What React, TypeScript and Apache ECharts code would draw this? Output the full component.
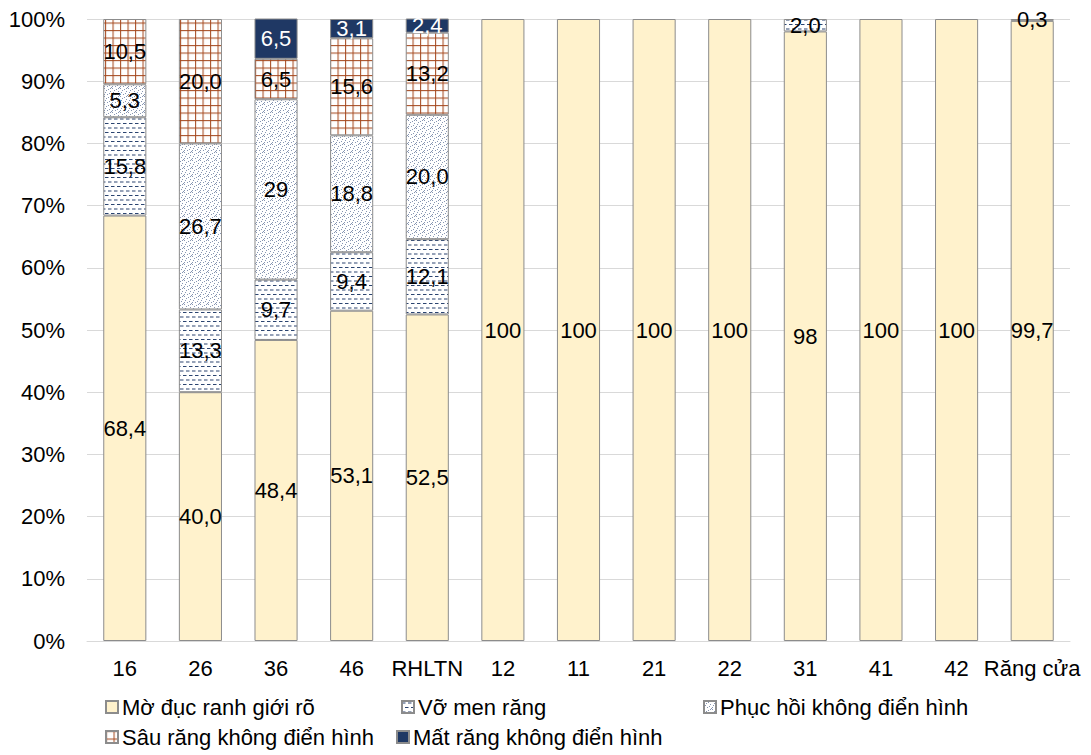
import React, { useEffect, useRef } from "react";
import * as echarts from "echarts";

const categories = ["16", "26", "36", "46", "RHLTN", "12", "11", "21", "22", "31", "41", "42", "Răng cửa"];
const seriesNames = [
  "Mờ đục ranh giới rõ",
  "Vỡ men răng",
  "Phục hồi không điển hình",
  "Sâu răng không điển hình",
  "Mất răng không điển hình",
];
const moDuc = ["68.4", "40.0", "48.4", "53.1", "52.5", "100", "100", "100", "100", "98", "100", "100", "99.7"];
const voMen = ["15.8", "13.3", "9.7", "9.4", "12.1", null, null, null, null, "2.0", null, null, "0.3"];
const phucHoi = ["5.3", "26.7", "29", "18.8", "20.0", null, null, null, null, null, null, null, null];
const sauRang = ["10.5", "20.0", "6.5", "15.6", "13.2", null, null, null, null, null, null, null, null];
const matRang = [null, null, "6.5", "3.1", "2.4", null, null, null, null, null, null, null, null];
const yTicks = [0, 10, 20, 30, 40, 50, 60, 70, 80, 90, 100];

const FONT = "Liberation Sans, Arial, sans-serif";

function makePattern(w: number, h: number, draw: (ctx: CanvasRenderingContext2D, s: number) => void) {
  const s = 4;
  const c = document.createElement("canvas");
  c.width = Math.round(w * s);
  c.height = Math.round(h * s);
  const ctx = c.getContext("2d") as CanvasRenderingContext2D;
  ctx.fillStyle = "#ffffff";
  ctx.fillRect(0, 0, c.width, c.height);
  draw(ctx, s);
  return { image: c.toDataURL(), repeat: "repeat", imageWidth: w, imageHeight: h } as any;
}

export default function App() {
  const ref = useRef<HTMLDivElement>(null);
  useEffect(() => {
    document.body.style.margin = "0";
    const chart = echarts.init(ref.current!, null, { renderer: "svg" });

    const dashPat = makePattern(6, 9, (ctx, s) => {
      ctx.fillStyle = "#2b4470";
      ctx.fillRect(0, 1.5 * s, 3.5 * s, 1 * s);
      ctx.fillRect(3 * s, 6 * s, 3 * s, 1 * s);
      ctx.fillRect(0, 6 * s, 0.5 * s, 1 * s);
    });
    const dotPts = [
      [0, 0], [4, 1], [2, 2], [6, 3], [1, 4], [5, 5], [3, 6], [7, 7], [0, 6], [6, 0],
    ];
    const dotPat = makePattern(8, 8, (ctx, s) => {
      ctx.fillStyle = "#8796b3";
      dotPts.forEach(([x, y]) => ctx.fillRect(x * s, y * s, 1 * s, 1 * s));
    });
    const gridPat = makePattern(7.5, 7.5, (ctx, s) => {
      ctx.fillStyle = "#a4461c";
      ctx.fillRect(0, 0, 1.1 * s, 7.5 * s);
      ctx.fillRect(0, 0, 7.5 * s, 1.1 * s);
    });

    const arrays = [moDuc, voMen, phucHoi, sauRang, matRang];
    const colors: any[] = ["#FFF2CC", dashPat, dotPat, gridPat, "#1F3864"];
    const labelColors = ["#000", "#000", "#000", "#000", "#fff"];

    const series = arrays.map((arr, i) => ({
      name: seriesNames[i],
      type: "bar",
      stack: "total",
      barCategoryGap: "43%",
      data: arr.map((v) => (v === null ? null : Number(v))),
      itemStyle: { color: colors[i], borderColor: "#8c8c8c", borderWidth: 1 },
      label: {
        show: true,
        position: "inside",
        color: labelColors[i],
        fontSize: 22,
        fontFamily: FONT,
        formatter: (p: any) => {
          const s = arr[p.dataIndex];
          return s === null ? "" : s.replace(".", ",");
        },
      },
      emphasis: { disabled: true },
    }));

    const legendPos = [
      { left: 105, top: 696 },
      { left: 401, top: 696 },
      { left: 703, top: 696 },
      { left: 105, top: 726 },
      { left: 396, top: 726 },
    ];
    const legends = seriesNames.map((n, i) => ({
      data: [n],
      left: legendPos[i].left,
      top: legendPos[i].top,
      icon: "rect",
      itemWidth: 12,
      itemHeight: 12,
      selectedMode: false,
      textStyle: { fontSize: 22, color: "#000", fontFamily: FONT, padding: [0, 0, 0, -1] },
      padding: 0,
    }));

    chart.setOption({
      animation: false,
      grid: { left: 87, right: 21, top: 19, bottom: 114, containLabel: false },
      legend: legends,
      xAxis: {
        type: "category",
        data: categories,
        axisLine: { show: true, lineStyle: { color: "#d9d9d9", width: 1 } },
        axisTick: { show: false },
        axisLabel: { color: "#000", fontSize: 22, fontFamily: FONT, margin: 16, interval: 0 },
      },
      yAxis: {
        type: "value",
        min: yTicks[0],
        max: yTicks[yTicks.length - 1],
        interval: 10,
        axisLine: { show: false },
        axisTick: { show: false },
        splitLine: { lineStyle: { color: "#d9d9d9", width: 1 } },
        axisLabel: { color: "#000", fontSize: 22, fontFamily: FONT, margin: 22, formatter: "{value}%" },
      },
      series,
    });
    return () => chart.dispose();
  }, []);
  return <div ref={ref} style={{ width: 1091, height: 755 }} />;
}
